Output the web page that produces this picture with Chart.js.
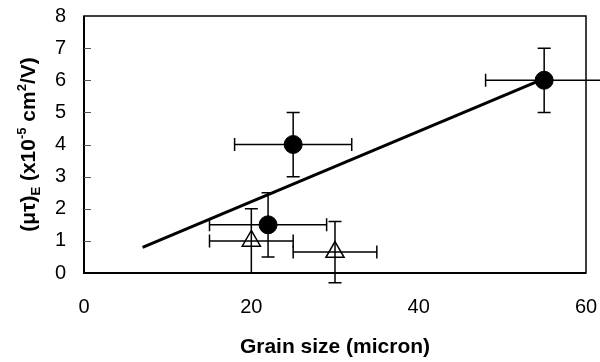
<!DOCTYPE html>
<html>
<head>
<meta charset="utf-8">
<script src="https://cdn.jsdelivr.net/npm/chart.js@4.4.0/dist/chart.umd.min.js"></script>
<style>
  html, body { margin: 0; padding: 0; background: #fff; }
  #wrap { width: 600px; height: 362px; }
</style>
</head>
<body>
<div id="wrap"><canvas id="canvas" width="600" height="362"></canvas></div>
<script>
// filled circles
let circleX = [25, 22, 55]
let circleY = [4, 1.5, 6]
let circleXErr = [7, 7, 7]
let circleYErr = [1, 1, 1]

// open triangles
let triX = [20, 30]
let triY = [1.0, 0.65]
let triXErr = [5, 5]
let triYErr = [1.0, 0.95]

// straight fit through the points
let fitX = [7, 55]
let fitY = [0.8, 6.05]

let xTicks = [0, 20, 40, 60]
let yTicks = [0, 1, 2, 3, 4, 5, 6, 7, 8]

const FONT = "'Liberation Sans', Arial, sans-serif"

function toPoints(xs, ys) {
    var pts = []
    for (let i = 0; i < xs.length; i++) {
        pts.push({x: xs[i], y: ys[i]})
    }
    return pts
}

function drawErrBars(ctx, xs, ys, xe, ye, sx, sy) {
    let cap = 6.5
    for (let i = 0; i < xs.length; i++) {
        let px = sx.getPixelForValue(xs[i])
        let py = sy.getPixelForValue(ys[i])
        let x1 = sx.getPixelForValue(xs[i] - xe[i])
        let x2 = sx.getPixelForValue(xs[i] + xe[i])
        let y1 = sy.getPixelForValue(ys[i] - ye[i])
        let y2 = sy.getPixelForValue(ys[i] + ye[i])
        ctx.beginPath()
        ctx.moveTo(x1, py); ctx.lineTo(x2, py)
        ctx.moveTo(x1, py - cap); ctx.lineTo(x1, py + cap)
        ctx.moveTo(x2, py - cap); ctx.lineTo(x2, py + cap)
        ctx.moveTo(px, y1); ctx.lineTo(px, y2)
        ctx.moveTo(px - cap, y1); ctx.lineTo(px + cap, y1)
        ctx.moveTo(px - cap, y2); ctx.lineTo(px + cap, y2)
        ctx.stroke()
    }
}

// frame, inner y ticks, error bars and the rotated y title
const extras = {
    id: 'extras',
    beforeDatasetsDraw(chart) {
        let ctx = chart.ctx
        let a = chart.chartArea
        let sx = chart.scales.x
        let sy = chart.scales.y
        ctx.save()
        ctx.strokeStyle = '#000'
        ctx.lineWidth = 1.5
        drawErrBars(ctx, circleX, circleY, circleXErr, circleYErr, sx, sy)
        drawErrBars(ctx, triX, triY, triXErr, triYErr, sx, sy)

        ctx.lineWidth = 1.5
        ctx.strokeRect(a.left, a.top, a.right - a.left, a.bottom - a.top)
        ctx.lineWidth = 2
        ctx.beginPath()
        ctx.moveTo(a.left, a.top); ctx.lineTo(a.left, a.bottom); ctx.lineTo(a.right, a.bottom)
        ctx.stroke()

        ctx.strokeStyle = '#555'
        ctx.lineWidth = 1
        for (let i = 1; i < yTicks.length - 1; i++) {
            let y = Math.round(sy.getPixelForValue(yTicks[i])) + 0.5
            ctx.beginPath()
            ctx.moveTo(a.left, y); ctx.lineTo(a.left + 7, y)
            ctx.stroke()
        }
        ctx.restore()
    },
    afterDraw(chart) {
        let ctx = chart.ctx
        let a = chart.chartArea
        let parts = [
            ['(\u03bc\u03c4)', 21, 0],
            ['E', 13, 5],
            [' (x10', 21, 0],
            ['-5', 13, -9],
            [' cm', 21, 0],
            ['2', 13, -9],
            ['/V)', 21, 0]
        ]
        ctx.save()
        ctx.fillStyle = '#000'
        ctx.textBaseline = 'alphabetic'
        let total = 0
        for (let p of parts) {
            ctx.font = 'bold ' + p[1] + 'px ' + FONT
            total += ctx.measureText(p[0]).width
        }
        ctx.translate(35, (a.top + a.bottom) / 2)
        ctx.rotate(-Math.PI / 2)
        let x = -total / 2
        for (let p of parts) {
            ctx.font = 'bold ' + p[1] + 'px ' + FONT
            ctx.fillText(p[0], x, p[2])
            x += ctx.measureText(p[0]).width
        }
        ctx.restore()
    }
}

var ctx = canvas.getContext('2d')
var config = {
    type: 'scatter',
    data: {
        datasets: [{
            label: 'fit',
            data: toPoints(fitX, fitY),
            showLine: true,
            borderColor: '#000',
            borderWidth: 3,
            pointRadius: 0,
            order: 3
        }, {
            label: 'circles',
            data: toPoints(circleX, circleY),
            pointStyle: 'circle',
            pointRadius: 9,
            backgroundColor: '#000',
            borderColor: '#000',
            borderWidth: 1,
            order: 1
        }, {
            label: 'triangles',
            data: toPoints(triX, triY),
            pointStyle: 'triangle',
            pointRadius: 10.5,
            backgroundColor: 'rgba(0,0,0,0)',
            borderColor: '#000',
            borderWidth: 1.5,
            order: 2
        }]
    },
    options: {
        responsive: false,
        animation: false,
        clip: false,
        layout: {autoPadding: false, padding: {left: 0, right: 14, top: 16, bottom: 0}},
        plugins: {legend: {display: false}, tooltip: {enabled: false}},
        scales: {
            x: {
                type: 'linear',
                min: 0,
                max: 60,
                afterBuildTicks: s => { s.ticks = xTicks.map(v => ({value: v})) },
                afterFit: s => { s.height = 89; s.paddingLeft = 0; s.paddingRight = 0 },
                grid: {display: false, drawTicks: false},
                border: {display: false},
                ticks: {color: '#000', padding: 22, font: {family: FONT, size: 20}},
                title: {
                    display: true,
                    text: 'Grain size (micron)',
                    color: '#000',
                    font: {family: FONT, size: 21, weight: 'bold'},
                    padding: {top: 0, bottom: 2}
                }
            },
            y: {
                type: 'linear',
                min: 0,
                max: 8,
                afterBuildTicks: s => { s.ticks = yTicks.map(v => ({value: v})) },
                afterFit: s => { s.width = 84; s.paddingTop = 0; s.paddingBottom = 0 },
                grid: {display: false, drawTicks: false},
                border: {display: false},
                ticks: {color: '#000', padding: 18, font: {family: FONT, size: 20}}
            }
        }
    },
    plugins: [extras]
}
let myChart = new Chart(ctx, config)
</script>
</body>
</html>
